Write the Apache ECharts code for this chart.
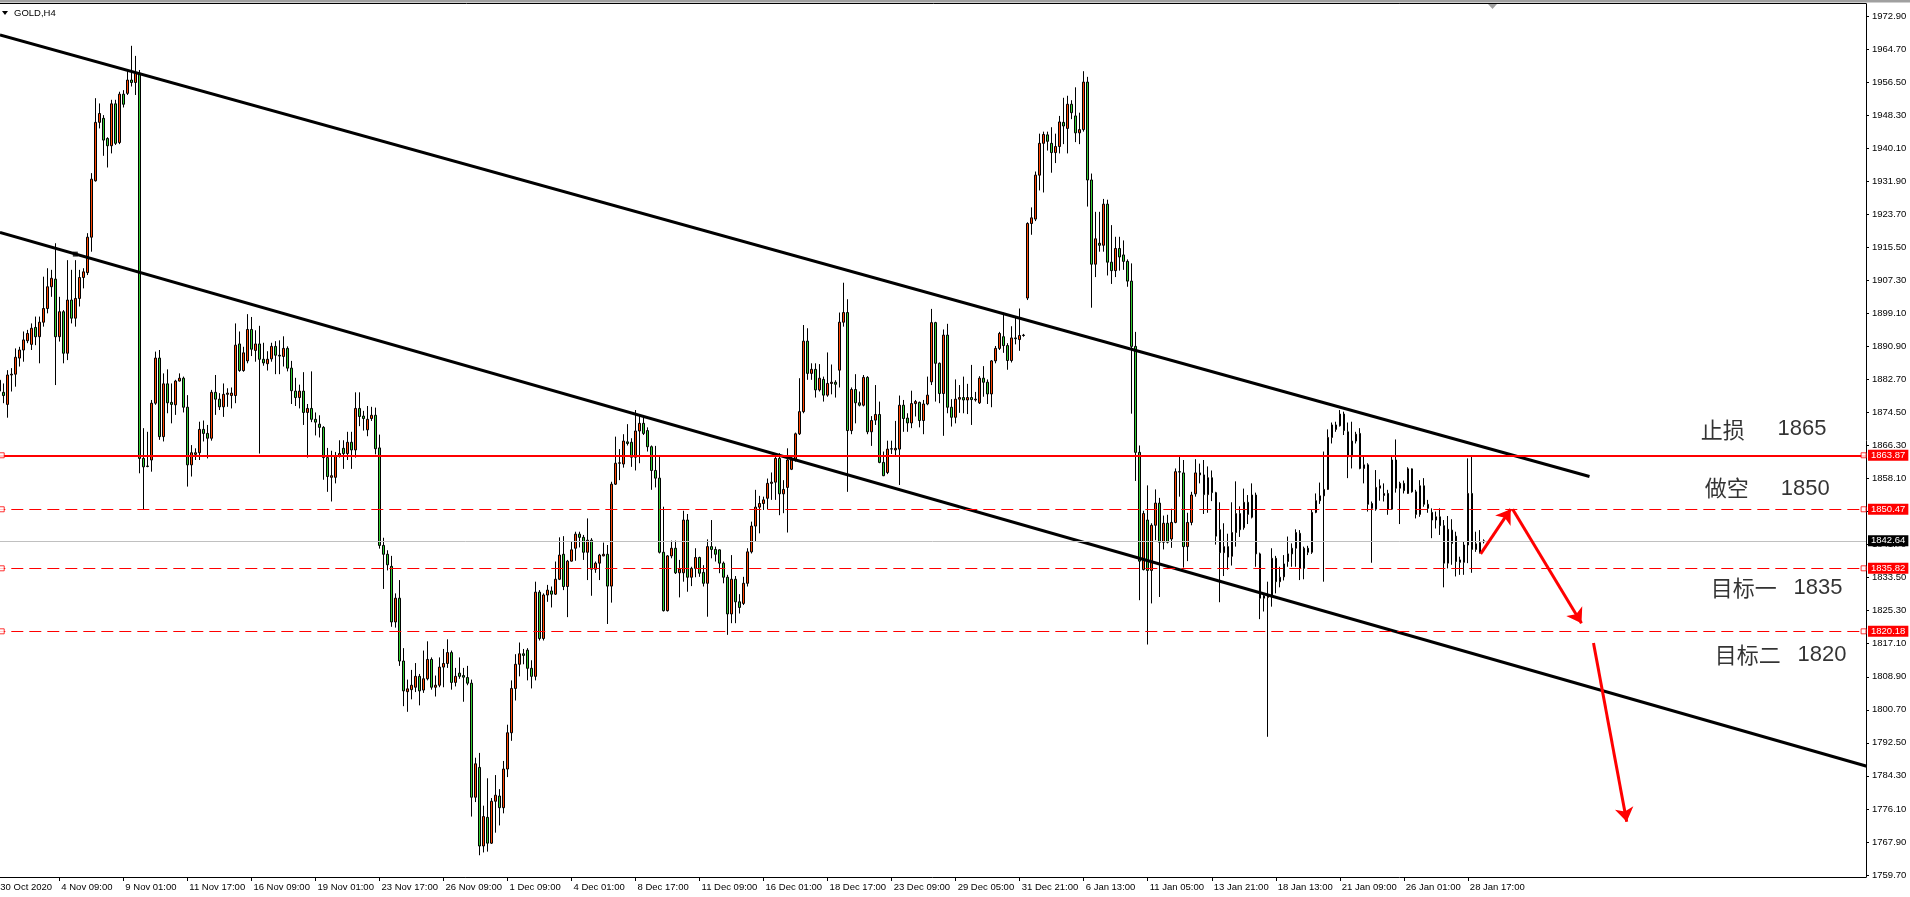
<!DOCTYPE html>
<html><head><meta charset="utf-8">
<script src="https://cdn.jsdelivr.net/npm/echarts@6/dist/echarts.min.js"></script>
<style>html,body{margin:0;padding:0;background:#fff;overflow:hidden}#c{width:1910px;height:897px}</style>
</head><body><div id="c"></div><script>
// ---- DATA ----
const symbolName = 'GOLD,H4';
// bottom axis labels, one every 16 H4 bars
const tickLabels = ['30 Oct 2020','4 Nov 09:00','9 Nov 01:00','11 Nov 17:00','16 Nov 09:00','19 Nov 01:00','23 Nov 17:00','26 Nov 09:00','1 Dec 09:00','4 Dec 01:00','8 Dec 17:00','11 Dec 09:00','16 Dec 01:00','18 Dec 17:00','23 Dec 09:00','29 Dec 05:00','31 Dec 21:00','6 Jan 13:00','11 Jan 05:00','13 Jan 21:00','18 Jan 13:00','21 Jan 09:00','26 Jan 01:00','28 Jan 17:00'];
// right axis tick values
const priceTicks = [1759.70,1767.90,1776.10,1784.30,1792.50,1800.70,1808.90,1817.10,1825.30,1833.50,1841.70,1849.90,1858.10,1866.30,1874.50,1882.70,1890.90,1899.10,1907.30,1915.50,1923.70,1931.90,1940.10,1948.30,1956.50,1964.70,1972.90];
// H4 bars [open, high, low, close], first bar is the partly hidden one at the left edge
const bars = [
[1882.5,1885.0,1877.6,1879.8],
[1879.5,1881.7,1876.8,1878.7],[1876.5,1885.0,1873.2,1883.8],[1883.8,1885.5,1879.7,1884.0],[1884.0,1890.4,1880.9,1888.2],[1888.0,1890.8,1885.9,1890.0],
[1890.0,1894.6,1887.1,1892.5],[1892.3,1895.0,1891.7,1894.1],[1891.4,1896.6,1890.0,1895.4],[1895.6,1898.3,1891.2,1893.3],[1893.3,1898.3,1886.7,1896.9],
[1896.9,1908.2,1895.8,1900.3],[1900.3,1910.3,1899.1,1905.7],[1905.7,1909.9,1903.2,1907.8],[1907.6,1916.5,1881.3,1893.3],[1893.3,1903.2,1892.1,1899.5],
[1899.5,1899.9,1886.7,1889.2],[1889.2,1912.3,1887.5,1902.4],[1902.4,1909.9,1896.6,1897.9],[1897.9,1912.3,1895.8,1902.8],[1902.8,1909.9,1900.8,1908.0],
[1908.0,1910.3,1905.3,1909.4],[1909.2,1919.0,1908.6,1918.0],[1918.0,1933.9,1914.4,1932.4],[1932.0,1952.5,1931.8,1946.5],[1946.5,1951.2,1945.0,1948.7],
[1947.5,1948.3,1938.2,1942.1],[1942.5,1942.8,1935.3,1940.7],[1940.7,1952.1,1938.8,1951.1],[1951.1,1952.1,1940.9,1941.3],[1941.5,1954.1,1941.1,1953.5],
[1953.5,1954.5,1950.2,1951.0],[1953.7,1959.5,1953.3,1957.0],[1957.0,1965.5,1955.4,1956.4],[1956.4,1963.0,1953.3,1958.7],[1958.7,1959.5,1859.4,1863.1],
[1863.1,1870.6,1850.3,1861.0],[1861.2,1869.7,1860.9,1861.1],[1862.7,1877.6,1859.8,1876.8],[1876.8,1889.6,1876.4,1888.0],[1888.0,1890.0,1867.7,1868.5],
[1868.5,1884.2,1867.3,1881.6],[1881.6,1885.2,1874.3,1876.9],[1877.0,1881.7,1871.8,1876.5],[1876.4,1882.6,1873.9,1882.3],[1882.3,1884.2,1882.2,1883.0],
[1883.0,1883.4,1874.5,1875.8],[1875.8,1878.8,1856.1,1861.5],[1861.5,1866.4,1858.6,1864.5],[1864.1,1865.6,1862.7,1864.5],[1864.5,1872.2,1862.7,1870.3],
[1870.3,1872.5,1867.3,1869.3],[1869.3,1871.4,1863.1,1868.1],[1868.1,1880.1,1867.5,1879.5],[1879.5,1883.8,1873.9,1877.8],[1877.8,1879.3,1875.1,1875.9],
[1875.9,1881.7,1873.4,1879.0],[1879.0,1880.5,1875.9,1879.3],[1878.7,1880.7,1875.5,1879.3],[1878.7,1896.6,1876.8,1891.2],[1891.5,1894.6,1884.6,1884.9],
[1884.9,1890.8,1884.6,1889.3],[1887.3,1898.9,1886.7,1895.1],[1895.1,1898.2,1888.5,1890.2],[1889.9,1894.9,1887.1,1891.5],[1891.5,1896.0,1864.3,1887.7],
[1887.7,1891.8,1886.1,1886.8],[1886.6,1889.7,1884.9,1887.7],[1887.8,1891.8,1887.1,1890.9],[1890.9,1892.2,1884.0,1888.7],[1888.7,1892.4,1884.0,1888.5],
[1888.4,1893.4,1885.9,1890.4],[1890.4,1890.9,1884.7,1885.5],[1885.5,1887.3,1876.6,1879.9],[1879.8,1883.1,1876.1,1878.2],[1878.2,1881.4,1875.5,1879.8],
[1879.8,1884.5,1871.4,1874.5],[1874.5,1876.6,1863.3,1875.5],[1875.5,1884.7,1872.1,1872.8],[1872.8,1874.5,1868.8,1872.1],[1871.6,1873.8,1868.3,1870.8],
[1870.8,1871.1,1857.8,1863.3],[1863.3,1865.7,1854.8,1858.6],[1858.4,1865.0,1852.4,1858.8],[1858.4,1864.7,1856.9,1863.8],[1863.6,1867.6,1863.3,1864.3],
[1865.6,1867.6,1860.5,1864.3],[1864.3,1869.7,1862.7,1867.1],[1867.1,1869.7,1860.5,1865.2],[1865.2,1879.5,1863.3,1875.5],[1875.5,1879.5,1871.1,1873.5],
[1873.6,1874.9,1870.0,1873.0],[1870.2,1876.1,1868.6,1872.8],[1873.0,1875.9,1872.4,1873.8],[1873.8,1875.7,1864.1,1865.5],[1865.7,1869.0,1840.7,1841.5],
[1841.5,1843.4,1830.7,1839.3],[1839.3,1840.3,1835.3,1836.7],[1836.3,1838.9,1821.3,1822.5],[1822.5,1829.6,1821.1,1828.4],[1828.4,1832.9,1811.6,1812.8],
[1812.8,1816.0,1801.6,1805.4],[1805.2,1808.2,1800.2,1805.9],[1805.7,1810.6,1803.3,1806.8],[1806.3,1812.3,1805.1,1809.0],[1809.0,1809.6,1801.8,1805.4],
[1805.6,1815.4,1804.9,1808.4],[1808.4,1817.7,1808.0,1813.2],[1813.2,1813.7,1805.7,1806.3],[1806.3,1809.2,1804.0,1806.8],[1806.8,1813.7,1806.3,1811.3],
[1811.3,1815.8,1806.3,1812.2],[1812.2,1818.2,1811.1,1814.9],[1814.9,1815.4,1805.7,1807.5],[1807.5,1811.1,1806.5,1809.0],[1809.8,1813.7,1808.4,1809.0],
[1809.2,1811.1,1802.7,1808.8],[1808.7,1811.6,1806.8,1807.3],[1807.3,1808.2,1774.2,1779.0],[1779.0,1788.8,1777.8,1787.3],[1786.4,1790.0,1764.6,1766.9],
[1766.9,1776.9,1765.3,1774.2],[1774.0,1783.7,1765.5,1767.6],[1767.6,1778.8,1767.4,1778.0],[1778.0,1784.5,1770.2,1779.5],[1779.3,1781.0,1772.0,1776.4],
[1776.4,1788.0,1775.0,1786.0],[1786.0,1797.0,1784.0,1795.0],[1795.0,1808.0,1793.0,1806.0],[1806.0,1814.5,1803.0,1812.0],[1812.0,1817.4,1809.0,1814.6],
[1814.6,1815.8,1812.0,1814.2],[1815.5,1816.0,1808.0,1811.0],[1811.0,1813.0,1806.0,1809.0],[1809.0,1832.5,1808.0,1829.9],[1829.9,1830.4,1817.9,1818.4],
[1818.4,1829.6,1817.9,1829.2],[1829.2,1831.7,1827.5,1830.4],[1830.2,1831.3,1826.1,1829.4],[1829.4,1837.5,1829.2,1833.1],[1833.1,1843.5,1832.9,1839.1],
[1839.3,1843.8,1830.4,1831.3],[1831.3,1837.9,1823.7,1837.6],[1837.6,1842.4,1837.5,1840.4],[1840.8,1844.9,1837.7,1844.3],[1844.3,1844.9,1841.0,1843.5],
[1843.5,1844.1,1837.9,1839.8],[1839.8,1848.2,1832.9,1842.8],[1842.8,1843.3,1829.0,1835.6],[1835.6,1837.5,1834.7,1837.1],[1837.1,1839.4,1832.9,1839.1],
[1838.9,1842.2,1838.8,1839.3],[1839.3,1841.6,1822.0,1831.4],[1831.4,1857.3,1827.3,1856.7],[1856.7,1868.5,1856.5,1861.9],[1861.9,1865.4,1857.7,1862.0],
[1861.7,1869.1,1860.8,1867.4],[1867.2,1871.6,1866.3,1866.8],[1867.1,1868.1,1861.0,1863.4],[1863.4,1875.1,1860.1,1869.9],[1869.9,1873.9,1861.9,1871.8],
[1871.8,1873.5,1868.9,1869.3],[1870.0,1870.8,1864.8,1866.0],[1866.0,1866.3,1855.3,1860.1],[1860.1,1866.2,1855.9,1858.2],[1858.2,1863.9,1839.5,1839.8],
[1839.8,1851.1,1825.1,1825.3],[1825.3,1839.1,1825.1,1838.9],[1838.9,1842.7,1838.3,1840.8],[1840.8,1842.7,1834.4,1834.7],[1834.7,1837.9,1828.6,1835.6],
[1834.7,1850.1,1832.5,1847.8],[1847.8,1849.3,1830.0,1833.6],[1833.6,1836.2,1831.4,1835.8],[1835.8,1840.8,1833.6,1838.5],[1838.5,1838.7,1833.7,1834.6],
[1834.8,1836.6,1831.3,1832.1],[1832.1,1843.0,1823.8,1841.2],[1841.2,1847.8,1838.3,1840.5],[1840.5,1841.2,1837.5,1839.3],[1840.4,1840.5,1834.6,1837.1],
[1837.1,1837.5,1832.1,1833.6],[1833.6,1834.2,1819.3,1824.5],[1824.5,1839.1,1822.2,1833.1],[1833.1,1833.9,1822.2,1827.5],[1827.5,1829.4,1824.6,1826.1],
[1827.1,1833.7,1826.7,1832.1],[1832.1,1840.8,1831.3,1839.9],[1839.9,1847.4,1839.5,1846.3],[1846.3,1855.3,1842.4,1851.0],[1851.0,1853.8,1844.5,1851.9],
[1851.9,1853.6,1850.3,1852.8],[1853.2,1858.1,1850.5,1856.9],[1856.9,1859.6,1852.8,1857.2],[1857.2,1864.4,1852.8,1863.1],[1863.1,1864.4,1849.0,1854.3],
[1854.3,1857.7,1849.5,1855.4],[1855.9,1865.6,1844.7,1862.7],[1860.4,1863.5,1860.2,1862.7],[1862.7,1869.5,1862.3,1869.2],[1869.2,1883.0,1868.9,1874.7],
[1874.7,1896.2,1874.3,1892.2],[1892.2,1895.4,1882.6,1884.2],[1884.2,1886.7,1882.6,1885.2],[1885.2,1886.7,1878.2,1880.1],[1880.1,1886.5,1879.7,1883.0],
[1882.7,1883.4,1877.2,1878.8],[1878.8,1889.4,1878.4,1881.7],[1881.7,1886.4,1879.0,1882.0],[1882.0,1882.5,1878.2,1881.5],[1885.0,1899.3,1880.7,1896.9],
[1896.9,1906.7,1895.8,1899.3],[1899.3,1902.6,1854.8,1870.0],[1870.0,1880.7,1869.1,1880.2],[1880.2,1884.0,1871.8,1876.9],[1876.9,1879.7,1876.0,1876.3],
[1876.3,1883.8,1876.0,1883.2],[1883.2,1883.5,1869.1,1869.7],[1869.7,1873.6,1866.2,1872.5],[1872.6,1881.3,1871.4,1874.0],[1874.0,1877.2,1861.9,1862.1],
[1862.1,1864.8,1858.7,1858.8],[1859.6,1867.5,1859.2,1865.4],[1865.4,1867.5,1864.2,1865.5],[1865.2,1872.4,1863.5,1865.6],[1865.4,1878.7,1856.5,1876.3],
[1876.3,1877.6,1869.7,1873.0],[1873.1,1874.3,1869.7,1871.9],[1871.9,1879.9,1870.6,1876.7],[1876.7,1877.6,1873.5,1877.2],[1877.0,1877.2,1870.8,1872.5],
[1872.5,1877.6,1869.1,1876.6],[1876.6,1883.4,1876.3,1878.8],[1882.1,1900.2,1881.3,1896.8],[1896.8,1897.0,1877.2,1886.7],[1886.7,1886.9,1876.8,1879.2],
[1879.2,1895.1,1868.7,1893.7],[1893.7,1896.5,1874.3,1875.8],[1875.8,1877.8,1871.0,1873.3],[1873.3,1882.7,1871.8,1877.8],[1877.8,1881.3,1874.4,1878.2],
[1878.2,1883.4,1874.3,1877.6],[1877.6,1881.6,1874.1,1878.2],[1878.2,1886.3,1871.4,1877.7],[1877.6,1879.6,1877.2,1877.8],[1876.9,1883.5,1876.6,1883.0],
[1883.0,1886.0,1878.4,1882.0],[1882.0,1882.7,1876.6,1879.1],[1879.1,1887.5,1875.8,1887.3],[1887.3,1891.0,1886.7,1890.4],[1890.4,1894.5,1890.0,1894.1],
[1893.3,1899.3,1889.3,1891.1],[1891.1,1891.7,1885.1,1887.4],[1887.4,1895.9,1886.9,1893.0],[1893.0,1898.0,1891.4,1892.8],[1892.6,1900.3,1889.8,1893.6],
[1893.6,1894.0,1893.3,1893.7],[1902.9,1921.7,1902.4,1921.4],[1921.4,1925.4,1918.6,1922.8],[1922.5,1934.3,1922.0,1933.4],[1933.4,1943.7,1929.6,1941.3],
[1941.3,1944.2,1929.1,1943.5],[1943.4,1944.2,1939.5,1941.8],[1941.3,1945.3,1934.0,1939.0],[1939.0,1943.7,1936.4,1940.5],[1940.5,1948.1,1938.8,1946.6],
[1946.5,1952.6,1941.1,1945.6],[1945.0,1953.1,1938.8,1951.0],[1951.0,1952.0,1947.3,1948.9],[1948.1,1955.2,1941.6,1943.9],[1943.9,1948.9,1941.1,1944.7],
[1944.7,1959.2,1944.2,1956.5],[1956.5,1957.8,1925.6,1932.2],[1932.2,1933.8,1900.5,1911.3],[1911.3,1924.3,1908.1,1917.6],[1916.5,1924.3,1914.4,1916.0],
[1916.0,1927.5,1914.4,1926.2],[1926.2,1927.3,1908.5,1911.8],[1911.8,1921.0,1906.4,1909.7],[1909.7,1918.1,1908.1,1915.2],[1915.2,1918.1,1909.7,1913.1],
[1913.6,1917.2,1909.9,1912.0],[1912.0,1912.5,1905.7,1907.1],[1907.1,1911.5,1874.2,1890.9],[1890.9,1894.5,1857.5,1864.6],[1864.6,1866.3,1827.9,1837.6],
[1835.5,1850.1,1835.3,1849.4],[1847.8,1856.4,1816.9,1835.3],[1835.3,1847.0,1827.1,1846.5],[1846.5,1855.4,1842.8,1852.0],[1852.0,1853.3,1828.7,1842.3],
[1842.3,1848.9,1840.5,1847.0],[1847.0,1849.1,1842.0,1842.3],[1843.1,1850.6,1840.9,1847.2],[1847.2,1860.6,1847.0,1859.8],[1859.8,1863.7,1853.6,1859.7],
[1859.5,1862.7,1836.0,1841.2],[1841.2,1849.6,1837.6,1847.2],[1847.2,1854.8,1846.5,1854.0],[1854.3,1862.9,1853.6,1859.5],[1859.5,1861.8,1856.9,1859.0],
[1859.0,1862.7,1849.3,1854.1],[1854.1,1861.1,1849.6,1858.3],[1858.3,1860.1,1852.5,1854.6],[1854.6,1854.8,1841.7,1843.8],[1845.4,1852.2,1827.4,1839.7],
[1839.7,1847.0,1833.9,1841.2],[1841.2,1844.4,1835.5,1838.6],[1838.8,1852.2,1836.5,1844.7],[1844.7,1857.4,1841.2,1849.4],[1849.4,1851.2,1843.6,1845.4],
[1845.9,1855.6,1845.4,1852.2],[1852.2,1854.0,1846.8,1849.2],[1848.5,1856.9,1848.2,1854.0],[1854.0,1854.6,1836.2,1839.4],[1839.4,1839.7,1823.2,1828.4],
[1828.4,1829.6,1825.1,1829.0],[1828.6,1832.5,1794.0,1829.2],[1828.8,1840.8,1826.3,1838.3],[1838.3,1838.9,1829.6,1832.5],[1832.5,1836.2,1831.1,1833.6],
[1833.7,1839.1,1832.8,1836.9],[1837.5,1843.7,1836.2,1839.4],[1840.8,1842.0,1836.2,1839.4],[1840.8,1845.5,1836.2,1844.7],[1844.5,1845.3,1832.9,1835.8],
[1835.8,1841.2,1833.1,1840.8],[1840.8,1841.4,1839.1,1839.8],[1839.8,1850.3,1839.4,1849.7],[1849.7,1854.4,1849.5,1852.6],[1852.6,1857.1,1851.8,1853.8],
[1853.8,1864.8,1832.5,1855.4],[1855.4,1870.3,1855.3,1868.3],[1868.3,1872.0,1866.8,1871.4],[1870.3,1872.2,1869.7,1871.4],[1871.2,1875.1,1871.0,1874.1],
[1874.1,1874.7,1868.9,1870.0],[1869.7,1872.0,1858.2,1863.5],[1863.5,1872.2,1860.6,1867.4],[1867.4,1869.7,1866.8,1869.1],[1869.3,1870.6,1860.4,1860.6],
[1860.6,1863.7,1856.9,1861.5],[1861.5,1861.9,1849.9,1851.7],[1851.9,1852.4,1837.2,1850.7],[1850.5,1860.2,1850.1,1855.9],[1855.7,1857.9,1852.6,1856.3],
[1853.9,1856.9,1852.4,1854.4],[1854.4,1855.3,1849.1,1850.5],[1850.5,1863.5,1850.3,1862.7],[1862.7,1867.8,1854.6,1855.7],[1855.7,1857.3,1846.8,1856.9],
[1856.9,1857.6,1854.4,1855.1],[1854.4,1860.9,1854.3,1860.5],[1860.5,1860.6,1854.6,1854.8],[1854.8,1855.3,1848.2,1849.2],[1849.2,1857.7,1848.6,1856.3],
[1856.3,1858.2,1851.1,1851.7],[1851.7,1852.8,1849.6,1850.7],[1849.7,1850.7,1843.3,1847.8],[1847.8,1849.9,1845.7,1848.6],[1848.6,1850.7,1844.1,1846.4],
[1846.4,1847.8,1831.1,1837.1],[1837.1,1848.8,1835.8,1845.5],[1845.3,1848.0,1836.7,1842.0],[1843.8,1844.9,1833.8,1837.5],[1837.3,1838.7,1834.2,1837.9],
[1837.3,1842.4,1834.2,1841.6],[1841.6,1863.1,1837.1,1854.4],[1854.4,1863.7,1834.7,1840.5],[1840.5,1844.9,1839.9,1841.9],[1839.7,1845.3,1839.5,1842.2],
[1842.4,1843.0,1842.0,1842.64]
];
// horizontal levels
const stopLevel = 1863.87;
const dashedLevels = [1850.47, 1835.82, 1820.18];
const bidPrice = 1842.64;
// trend lines: [[barIndex, price], [barIndex, price]]
const upperTrend = [[-0.83, 1968.2], [396.4, 1858.6]];
const lowerTrend = [[-0.83, 1919.2], [465.7, 1786.7]];
const trendAnchor = [[18.0, 1913.8]];
// drawn red arrows
const arrows = [
  [[369.2, 1839.4], [376.7, 1850.5]],
  [[377.2, 1850.5], [394.4, 1822.2]],
  [[397.4, 1817.3], [405.7, 1772.9]]
];
// text notes
const noteNames = ['止损', '做空', '目标一', '目标二'];
const noteValues = ['1865', '1850', '1835', '1820'];

// ---- LAYOUT (positions in bar-index / price units) ----
const LEAD = 2;                  // hidden leading bars before the first drawn bar
const NCAT = 468;                // number of 4px slots across the plot
const nameAnchors = [[424.2, 1870.15], [425.2, 1855.75], [426.7, 1831.05], [427.7, 1814.3]];
const valueAnchors = [[443.4, 1870.3], [444.2, 1855.6], [447.4, 1831.05], [448.4, 1814.2]];
const markerBars = [-0.4, 464.9];

const X = i => i + LEAD;
const cats = Array.from({length: NCAT}, (_, k) => k);
const candleData = [];
for (let k = 0; k < LEAD - 1; k++) candleData.push(['-', '-', '-', '-']);
bars.forEach(b => candleData.push([b[0], b[3], b[2], b[1]]));

const FONT = 'Liberation Sans';
const chart = echarts.init(document.getElementById('c'), null, {renderer: 'canvas'});

const levelMarkers = [];
[stopLevel].concat(dashedLevels).forEach(v => markerBars.forEach(b => levelMarkers.push([X(b), v])));

const tagLabel = (bg) => ({
  show: true, position: 'end', distance: 2,
  formatter: p => Number(p.value).toFixed(2),
  color: '#fff', backgroundColor: bg, fontFamily: FONT, fontSize: 9.5,
  padding: [1, 3, 0, 3], lineHeight: 10
});
const showTick = (idx) => idx % 16 === 0 && (idx / 16) < tickLabels.length;

const option = {
  animation: false,
  backgroundColor: '#fff',
  grid: {left: -6.7, top: 4, width: 1872.7, height: 873, containLabel: false, outerBoundsMode: 'none'},
  xAxis: [{
    type: 'category', data: cats, boundaryGap: true, position: 'bottom',
    axisLine: {show: true, lineStyle: {color: '#000', width: 1}},
    axisTick: {show: true, interval: showTick, alignWithLabel: true, length: 4, lineStyle: {color: '#000'}},
    axisLabel: {show: true, interval: showTick, align: 'left', margin: 5, padding: [0, 0, 0, 2], color: '#000', fontFamily: FONT, fontSize: 9.5,
      formatter: (v, idx) => {
        if (!showTick(idx)) return '';
        const t = tickLabels[idx / 16];
        return idx === 0 ? '{first|' + t + '}' : t;
      },
      rich: {first: {padding: [0, 0, 0, 3], color: '#000', fontFamily: FONT, fontSize: 9.5}}},
    splitLine: {show: false}
  }, {
    type: 'value', min: -0.5, max: NCAT - 0.5, show: false
  }],
  yAxis: [{
    type: 'value', position: 'right', min: 1759.2, max: 1975.88, scale: true,
    axisLine: {show: true, onZero: false, lineStyle: {color: '#000', width: 1}},
    axisTick: {show: true, length: 3, customValues: priceTicks, lineStyle: {color: '#000'}},
    axisLabel: {show: true, customValues: priceTicks, margin: 6, color: '#000', fontFamily: FONT, fontSize: 9.5,
      formatter: v => Number(v).toFixed(2)},
    splitLine: {show: false}
  }],
  graphic: [
    {type: 'rect', shape: {x: 0, y: 0, width: 1910, height: 2.5}, style: {fill: '#a0a0a0'}, silent: true},
    {type: 'line', shape: {x1: 0, y1: 3.5, x2: 1866.5, y2: 3.5}, style: {stroke: '#000', lineWidth: 1}, silent: true},
    {type: 'polygon', shape: {points: [[1488, 4], [1497, 4], [1492.5, 9]]}, style: {fill: '#a0a0a0'}, silent: true},
    {type: 'polygon', shape: {points: [[2, 11], [8, 11], [5, 15]]}, style: {fill: '#000'}, silent: true},
    {type: 'text', x: 14, y: 13, style: {text: symbolName, fill: '#000', font: '9.5px ' + FONT, textVerticalAlign: 'middle'}, silent: true}
  ],
  series: [
    {
      // bid line (behind candles)
      type: 'line', xAxisIndex: 1, data: [[X(0), bidPrice], [X(1), bidPrice]], showSymbol: false,
      lineStyle: {opacity: 0}, z: 1, silent: true,
      markLine: {silent: true, symbol: 'none', animation: false,
        lineStyle: {color: '#c0c0c0', width: 1, type: 'solid'},
        label: tagLabel('#000'),
        data: [{yAxis: bidPrice}]}
    },
    {
      type: 'candlestick', xAxisIndex: 0, data: candleData, barWidth: 2, z: 2, silent: true,
      itemStyle: {color: '#ff4500', color0: '#32cd32', borderColor: '#000', borderColor0: '#000', borderColorDoji: '#000', borderWidth: 1}
    },
    {
      type: 'line', xAxisIndex: 1, data: upperTrend.map(p => [X(p[0]), p[1]]), showSymbol: false, z: 4, silent: true,
      lineStyle: {color: '#000', width: 3}
    },
    {
      type: 'line', xAxisIndex: 1, data: lowerTrend.map(p => [X(p[0]), p[1]]), showSymbol: false, z: 4, silent: true,
      lineStyle: {color: '#000', width: 3}
    },
    {
      type: 'scatter', xAxisIndex: 1, data: trendAnchor.map(p => [X(p[0]), p[1]]), symbol: 'rect', symbolSize: 5, z: 5, silent: true,
      itemStyle: {color: '#000'}
    },
    {
      // red level lines with tags and end markers
      type: 'scatter', xAxisIndex: 1, data: levelMarkers, symbol: 'rect', symbolSize: 5, z: 6, silent: true,
      itemStyle: {color: '#fff', borderColor: '#ff0000', borderWidth: 1},
      markLine: {silent: true, symbol: 'none', animation: false,
        label: tagLabel('#ff0000'),
        data: [{yAxis: stopLevel, lineStyle: {color: '#ff0000', width: 2, type: 'solid'}}]
          .concat(dashedLevels.map(v => ({yAxis: v, lineStyle: {color: '#ff0000', width: 1, type: [12, 6]}})))}
    },
    {
      type: 'lines', coordinateSystem: 'cartesian2d', xAxisIndex: 1, z: 7, silent: true,
      symbol: ['none', 'arrow'], symbolSize: 14,
      lineStyle: {color: '#ff0000', width: 3, opacity: 1},
      data: arrows.map(a => ({coords: a.map(p => [X(p[0]), p[1]])}))
    },
    {
      type: 'scatter', xAxisIndex: 1, symbolSize: 0, z: 8, silent: true,
      data: nameAnchors.map((p, k) => ({value: [X(p[0]), p[1]], name: noteNames[k]})),
      label: {show: true, position: 'right', distance: 0, formatter: p => p.name, color: '#000',
        fontFamily: 'Noto Sans CJK SC', fontSize: 22}
    },
    {
      type: 'scatter', xAxisIndex: 1, symbolSize: 0, z: 8, silent: true,
      data: valueAnchors.map((p, k) => ({value: [X(p[0]), p[1]], name: noteValues[k]})),
      label: {show: true, position: 'right', distance: 0, formatter: p => p.name, color: '#000',
        fontFamily: FONT, fontSize: 22}
    }
  ]
};
chart.setOption(option);
</script></body></html>
